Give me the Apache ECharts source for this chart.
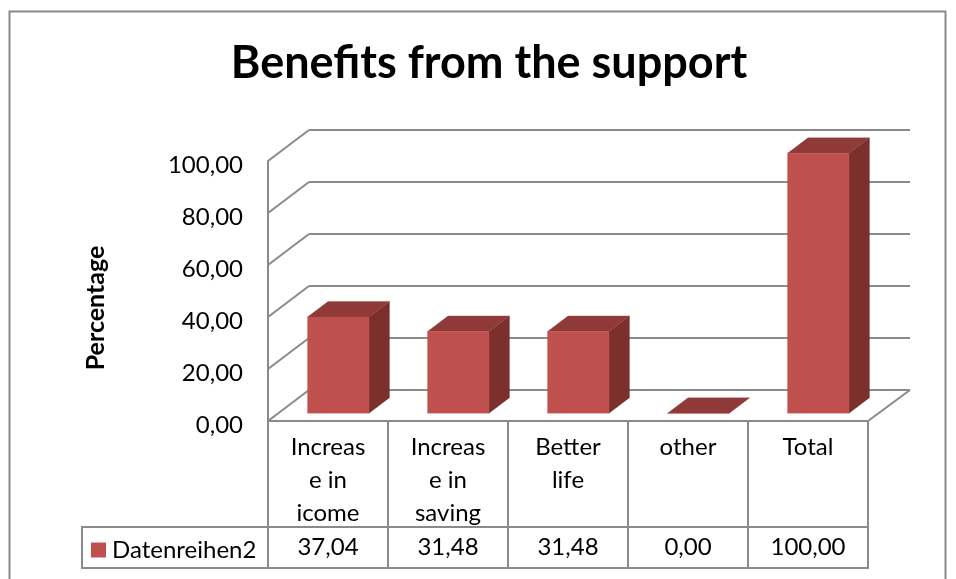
<!DOCTYPE html>
<html>
<head>
<meta charset="utf-8">
<script src="https://cdn.jsdelivr.net/npm/echarts@6/dist/echarts.min.js"></script>
<style>html,body{margin:0;padding:0;background:#fff}#c{width:956px;height:579px}</style>
</head>
<body>
<div id="c"></div>
<script>
const titleText = 'Benefits from the support';
const yAxisTitle = 'Percentage';
const seriesName = 'Datenreihen2';
const categories = ['Increas\ne in\nicome', 'Increas\ne in\nsaving', 'Better\nlife', 'other', 'Total'];
const values = [37.04, 31.48, 31.48, 0.00, 100.00];
const yTicks = [0, 20, 40, 60, 80, 100];

const fontFamily = 'Lato, Carlito, "Open Sans", sans-serif';
const lineColor = '#8a8a8a';
const frontColor = '#c0504d';
const topColor = '#8f3a38';
const sideColor = '#7b302e';
const depthX = 41, depthY = 31;
const fmt = v => v.toFixed(2).replace('.', ',');

const chart = echarts.init(document.getElementById('c'), null, {renderer: 'canvas'});

function face(points, color) {
  return {type: 'polygon', shape: {points}, style: {fill: color, stroke: color, lineWidth: 0.3}};
}

chart.setOption({
  animation: false,
  backgroundColor: '#fff',
  title: {
    text: titleText, left: 484, top: 36, textAlign: 'center',
    textStyle: {fontFamily, fontWeight: 'bold', fontSize: 45, color: '#000'}
  },
  legend: {
    data: [seriesName], left: 87, top: 536, padding: [2, 4], icon: 'rect',
    itemWidth: 15, itemHeight: 15, itemGap: 0,
    textStyle: {fontFamily, fontSize: 24, color: '#000', padding: [0, 0, 0, 1]}
  },
  grid: [
    {left: 268, top: 161, width: 600, height: 260},
    {left: 309, top: 130, width: 601, height: 260}
  ],
  xAxis: [
    {
      type: 'category', gridIndex: 0, data: categories,
      axisLine: {show: true, lineStyle: {color: lineColor, width: 2}},
      axisTick: {show: true, length: 147, lineStyle: {color: lineColor, width: 2}},
      axisLabel: {
        interval: 0, margin: 10, fontFamily, fontSize: 24, lineHeight: 33,
        color: '#000', align: 'center', verticalAlign: 'top'
      }
    },
    {type: 'category', gridIndex: 1, data: categories, show: false}
  ],
  yAxis: [
    {
      type: 'value', gridIndex: 0, min: 0, max: 100, interval: 20,
      axisLine: {show: true, lineStyle: {color: lineColor, width: 2}},
      axisTick: {show: false},
      splitLine: {show: false},
      axisLabel: {
        margin: 25, fontFamily, fontSize: 24, color: '#000',
        verticalAlign: 'top', lineHeight: 8,
        formatter: fmt
      }
    },
    {
      type: 'value', gridIndex: 1, min: 0, max: 100, interval: 20,
      axisLine: {show: false}, axisTick: {show: false}, axisLabel: {show: false},
      splitLine: {show: true, lineStyle: {color: lineColor, width: 2}}
    }
  ],
  graphic: [
    {
      type: 'text', x: 96, y: 308, rotation: Math.PI / 2, z: 10,
      style: {text: yAxisTitle, fontFamily, fontWeight: 'bold', fontSize: 25, fill: '#000',
              align: 'center', verticalAlign: 'middle'}
    },
    {
      type: 'rect', z: 1,
      shape: {x: 82, y: 527, width: 786, height: 41},
      style: {fill: 'none', stroke: lineColor, lineWidth: 2}
    },
    {
      type: 'rect', z: 0,
      shape: {x: 9.5, y: 11.5, width: 936, height: 600},
      style: {fill: 'none', stroke: lineColor, lineWidth: 2}
    }
  ],
  series: [
    {
      type: 'custom', name: 'walls', coordinateSystem: 'cartesian2d', xAxisIndex: 0, yAxisIndex: 0,
      silent: true, z: 2, clip: false,
      data: yTicks.map(v => [0, v]),
      renderItem(params, api) {
        const p = api.coord([0, api.value(1)]);
        const x = p[0] - api.size([1, 0])[0] / 2;
        const children = [{
          type: 'line',
          shape: {x1: x, y1: p[1], x2: x + depthX, y2: p[1] - depthY},
          style: {stroke: lineColor, lineWidth: 2}
        }];
        if (api.value(1) === 0) {
          const r = api.coord([4, 0]);
          const xr = r[0] + api.size([1, 0])[0] / 2;
          children.push({
            type: 'line',
            shape: {x1: xr, y1: p[1], x2: xr + depthX + 1, y2: p[1] - depthY},
            style: {stroke: lineColor, lineWidth: 2}
          });
        }
        return {type: 'group', children};
      }
    },
    {
      type: 'custom', name: seriesName, coordinateSystem: 'cartesian2d', xAxisIndex: 0, yAxisIndex: 0,
      z: 3, clip: false,
      itemStyle: {color: frontColor},
      data: values.map((v, i) => [i, v]),
      renderItem(params, api) {
        const i = api.value(0), v = api.value(1);
        const cx = api.coord([i, 0])[0];
        const y0 = api.coord([i, 0])[1];
        const yv = api.coord([i, v])[1];
        const half = api.size([1, 0])[0] * 0.256;
        const pt = (x, y, d) => [x + d * depthX, y - d * depthY];
        const l = cx - half, r = cx + half;
        return {type: 'group', children: [
          face([pt(r, y0, .25), pt(r, y0, .75), pt(r, yv, .75), pt(r, yv, .25)], sideColor),
          face([pt(l, yv, .25), pt(r, yv, .25), pt(r, yv, .75), pt(l, yv, .75)], topColor),
          face([pt(l, y0, .25), pt(r, y0, .25), pt(r, yv, .25), pt(l, yv, .25)], frontColor),
          {
            type: 'text', x: cx, y: y0 + 126,
            style: {text: fmt(v), fontFamily, fontSize: 24, fill: '#000', align: 'center', verticalAlign: 'middle'}
          }
        ]};
      }
    }
  ]
});
</script>
</body>
</html>
